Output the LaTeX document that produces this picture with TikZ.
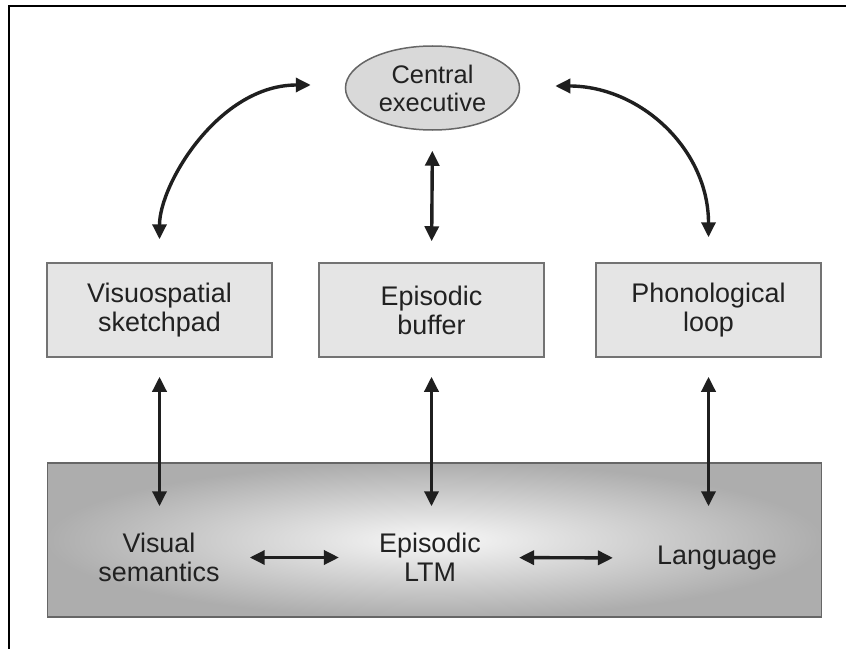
\documentclass[tikz,border=0pt]{standalone}
\usepackage{fontspec}
\setmainfont{Liberation Sans}
\usetikzlibrary{arrows.meta,shapes.geometric,calc}
\begin{document}
\begin{tikzpicture}[x=1bp,y=-1bp,
  lbl/.style={font=\fontsize{27}{29}\selectfont, align=center, text=black!87},
  wmbox/.style={lbl, draw=black!55, line width=1.5bp, fill=black!10, minimum width=225bp, minimum height=94bp, inner sep=0pt},
  exec/.style={lbl, font=\fontsize{25.5}{28}\selectfont, ellipse, draw=black!60, line width=1.5bp, fill=black!15, minimum width=174bp, minimum height=84bp, inner sep=0pt},
  ltmbox/.style={draw=black!60, line width=1.5bp, inner color=black!3, outer color=black!32, minimum width=774bp, minimum height=154bp, inner sep=0pt},
  txt/.style={lbl, inner sep=0pt},
  conn/.style={draw=black!88, line width=3.4bp, {Triangle[length=15bp,width=14bp]}-{Triangle[length=15bp,width=14bp]}},
  frameline/.style={line width=2bp, black}]
\useasboundingbox (0,0) rectangle (846,649);
\fill[white] (0,0) rectangle (846,649);
\draw[frameline] (846,6) -- (8.5,6) -- (8.5,649);

% nodes
\node[exec] (ce) at (432.5,88) {Central\\executive};
\node[wmbox] (vs) at (159.5,310) {Visuospatial\\sketchpad};
\node[wmbox] (eb) at (431.5,310) {Episodic\\buffer};
\node[wmbox] (pl) at (708.5,310) {Phonological\\loop};
\node[ltmbox] (ltm) at (434.5,540) {};
\node[txt] (vsem) at (159,557.5) {Visual\\semantics};
\node[txt] (eltm) at (430,557.5) {Episodic\\LTM};
\node[txt] (lang) at (717,558) {Language};

% curved connectors
\coordinate (c1) at ($(vs.north)+(0,-23)$);
\coordinate (c2) at ($(ce.west)+(-34,-3)$);
\draw[conn] (c1) .. controls ($(c1)+(0,-55)$) and ($(c2)+(-92,0)$) .. (c2);
\coordinate (c3) at ($(ce.east)+(35,-2)$);
\coordinate (c4) at ($(pl.north)+(0,-25)$);
\draw[conn] (c3) .. controls ($(c3)+(85,0)$) and ($(c4)+(0,-88)$) .. (c4);

% vertical connectors
\draw[conn, shorten <=20bp, shorten >=21bp] (ce.south) -- (eb.north);
\coordinate (vsb) at ($(vs.south |- ltm.north)+(0,44)$);
\coordinate (ebb) at ($(eb.south |- ltm.north)+(0,44)$);
\coordinate (plb) at ($(pl.south |- ltm.north)+(0,44)$);
\draw[conn, shorten <=19bp] (vs.south) -- (vsb);
\draw[conn, shorten <=19bp] (eb.south) -- (ebb);
\draw[conn, shorten <=19bp] (pl.south) -- (plb);

% horizontal connectors
\draw[conn, shorten <=30bp, shorten >=40bp] (vsem.east) -- (eltm.west);
\draw[conn, shorten <=38bp, shorten >=44bp] (eltm.east) -- (lang.west);
\end{tikzpicture}
\end{document}
